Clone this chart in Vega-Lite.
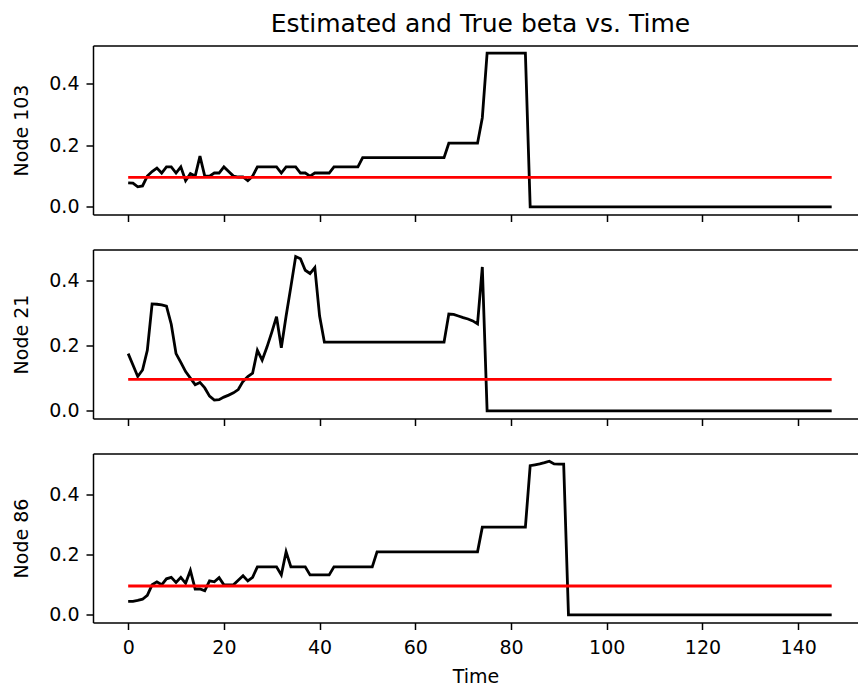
{
"$schema":"https://vega.github.io/schema/vega-lite/v6.json",
"padding":{"left":12,"top":11.5,"right":0,"bottom":0},
"title":{"text":"Estimated and True beta vs. Time","fontSize":25,"fontWeight":"normal","color":"#000","font":"DejaVu Sans","offset":9,"anchor":"middle","dx":45},
"datasets":{
"n103":[{"t":0,"b":0.078},{"t":1,"b":0.077},{"t":2,"b":0.065},{"t":3,"b":0.068},{"t":4,"b":0.1},{"t":5,"b":0.115},{"t":6,"b":0.126},{"t":7,"b":0.11},{"t":8,"b":0.13},{"t":9,"b":0.13},{"t":10,"b":0.11},{"t":11,"b":0.13},{"t":12,"b":0.085},{"t":13,"b":0.108},{"t":14,"b":0.1},{"t":15,"b":0.165},{"t":16,"b":0.1},{"t":17,"b":0.1},{"t":18,"b":0.11},{"t":19,"b":0.11},{"t":20,"b":0.13},{"t":21,"b":0.115},{"t":22,"b":0.1},{"t":23,"b":0.097},{"t":24,"b":0.097},{"t":25,"b":0.085},{"t":26,"b":0.1},{"t":27,"b":0.13},{"t":28,"b":0.13},{"t":29,"b":0.13},{"t":30,"b":0.13},{"t":31,"b":0.13},{"t":32,"b":0.11},{"t":33,"b":0.13},{"t":34,"b":0.13},{"t":35,"b":0.13},{"t":36,"b":0.11},{"t":37,"b":0.11},{"t":38,"b":0.1},{"t":39,"b":0.11},{"t":40,"b":0.11},{"t":41,"b":0.11},{"t":42,"b":0.11},{"t":43,"b":0.13},{"t":44,"b":0.13},{"t":45,"b":0.13},{"t":46,"b":0.13},{"t":47,"b":0.13},{"t":48,"b":0.13},{"t":49,"b":0.16},{"t":50,"b":0.16},{"t":51,"b":0.16},{"t":52,"b":0.16},{"t":53,"b":0.16},{"t":54,"b":0.16},{"t":55,"b":0.16},{"t":56,"b":0.16},{"t":57,"b":0.16},{"t":58,"b":0.16},{"t":59,"b":0.16},{"t":60,"b":0.16},{"t":61,"b":0.16},{"t":62,"b":0.16},{"t":63,"b":0.16},{"t":64,"b":0.16},{"t":65,"b":0.16},{"t":66,"b":0.16},{"t":67,"b":0.207},{"t":68,"b":0.207},{"t":69,"b":0.207},{"t":70,"b":0.207},{"t":71,"b":0.207},{"t":72,"b":0.207},{"t":73,"b":0.207},{"t":74,"b":0.29},{"t":75,"b":0.5},{"t":76,"b":0.5},{"t":77,"b":0.5},{"t":78,"b":0.5},{"t":79,"b":0.5},{"t":80,"b":0.5},{"t":81,"b":0.5},{"t":82,"b":0.5},{"t":83,"b":0.5},{"t":84,"b":0},{"t":85,"b":0},{"t":86,"b":0},{"t":87,"b":0},{"t":88,"b":0},{"t":89,"b":0},{"t":90,"b":0},{"t":91,"b":0},{"t":92,"b":0},{"t":93,"b":0},{"t":94,"b":0},{"t":95,"b":0},{"t":96,"b":0},{"t":97,"b":0},{"t":98,"b":0},{"t":99,"b":0},{"t":100,"b":0},{"t":101,"b":0},{"t":102,"b":0},{"t":103,"b":0},{"t":104,"b":0},{"t":105,"b":0},{"t":106,"b":0},{"t":107,"b":0},{"t":108,"b":0},{"t":109,"b":0},{"t":110,"b":0},{"t":111,"b":0},{"t":112,"b":0},{"t":113,"b":0},{"t":114,"b":0},{"t":115,"b":0},{"t":116,"b":0},{"t":117,"b":0},{"t":118,"b":0},{"t":119,"b":0},{"t":120,"b":0},{"t":121,"b":0},{"t":122,"b":0},{"t":123,"b":0},{"t":124,"b":0},{"t":125,"b":0},{"t":126,"b":0},{"t":127,"b":0},{"t":128,"b":0},{"t":129,"b":0},{"t":130,"b":0},{"t":131,"b":0},{"t":132,"b":0},{"t":133,"b":0},{"t":134,"b":0},{"t":135,"b":0},{"t":136,"b":0},{"t":137,"b":0},{"t":138,"b":0},{"t":139,"b":0},{"t":140,"b":0},{"t":141,"b":0},{"t":142,"b":0},{"t":143,"b":0},{"t":144,"b":0},{"t":145,"b":0},{"t":146,"b":0},{"t":147,"b":0}],
"n21":[{"t":0,"b":0.175},{"t":1,"b":0.14},{"t":2,"b":0.105},{"t":3,"b":0.125},{"t":4,"b":0.185},{"t":5,"b":0.327},{"t":6,"b":0.326},{"t":7,"b":0.324},{"t":8,"b":0.32},{"t":9,"b":0.265},{"t":10,"b":0.175},{"t":11,"b":0.148},{"t":12,"b":0.12},{"t":13,"b":0.1},{"t":14,"b":0.08},{"t":15,"b":0.087},{"t":16,"b":0.07},{"t":17,"b":0.045},{"t":18,"b":0.033},{"t":19,"b":0.034},{"t":20,"b":0.042},{"t":21,"b":0.048},{"t":22,"b":0.055},{"t":23,"b":0.065},{"t":24,"b":0.09},{"t":25,"b":0.105},{"t":26,"b":0.115},{"t":27,"b":0.185},{"t":28,"b":0.155},{"t":29,"b":0.195},{"t":30,"b":0.24},{"t":31,"b":0.288},{"t":32,"b":0.193},{"t":33,"b":0.29},{"t":34,"b":0.38},{"t":35,"b":0.472},{"t":36,"b":0.465},{"t":37,"b":0.43},{"t":38,"b":0.42},{"t":39,"b":0.438},{"t":40,"b":0.29},{"t":41,"b":0.21},{"t":42,"b":0.21},{"t":43,"b":0.21},{"t":44,"b":0.21},{"t":45,"b":0.21},{"t":46,"b":0.21},{"t":47,"b":0.21},{"t":48,"b":0.21},{"t":49,"b":0.21},{"t":50,"b":0.21},{"t":51,"b":0.21},{"t":52,"b":0.21},{"t":53,"b":0.21},{"t":54,"b":0.21},{"t":55,"b":0.21},{"t":56,"b":0.21},{"t":57,"b":0.21},{"t":58,"b":0.21},{"t":59,"b":0.21},{"t":60,"b":0.21},{"t":61,"b":0.21},{"t":62,"b":0.21},{"t":63,"b":0.21},{"t":64,"b":0.21},{"t":65,"b":0.21},{"t":66,"b":0.21},{"t":67,"b":0.296},{"t":68,"b":0.295},{"t":69,"b":0.29},{"t":70,"b":0.285},{"t":71,"b":0.281},{"t":72,"b":0.275},{"t":73,"b":0.266},{"t":74,"b":0.44},{"t":75,"b":0},{"t":76,"b":0},{"t":77,"b":0},{"t":78,"b":0},{"t":79,"b":0},{"t":80,"b":0},{"t":81,"b":0},{"t":82,"b":0},{"t":83,"b":0},{"t":84,"b":0},{"t":85,"b":0},{"t":86,"b":0},{"t":87,"b":0},{"t":88,"b":0},{"t":89,"b":0},{"t":90,"b":0},{"t":91,"b":0},{"t":92,"b":0},{"t":93,"b":0},{"t":94,"b":0},{"t":95,"b":0},{"t":96,"b":0},{"t":97,"b":0},{"t":98,"b":0},{"t":99,"b":0},{"t":100,"b":0},{"t":101,"b":0},{"t":102,"b":0},{"t":103,"b":0},{"t":104,"b":0},{"t":105,"b":0},{"t":106,"b":0},{"t":107,"b":0},{"t":108,"b":0},{"t":109,"b":0},{"t":110,"b":0},{"t":111,"b":0},{"t":112,"b":0},{"t":113,"b":0},{"t":114,"b":0},{"t":115,"b":0},{"t":116,"b":0},{"t":117,"b":0},{"t":118,"b":0},{"t":119,"b":0},{"t":120,"b":0},{"t":121,"b":0},{"t":122,"b":0},{"t":123,"b":0},{"t":124,"b":0},{"t":125,"b":0},{"t":126,"b":0},{"t":127,"b":0},{"t":128,"b":0},{"t":129,"b":0},{"t":130,"b":0},{"t":131,"b":0},{"t":132,"b":0},{"t":133,"b":0},{"t":134,"b":0},{"t":135,"b":0},{"t":136,"b":0},{"t":137,"b":0},{"t":138,"b":0},{"t":139,"b":0},{"t":140,"b":0},{"t":141,"b":0},{"t":142,"b":0},{"t":143,"b":0},{"t":144,"b":0},{"t":145,"b":0},{"t":146,"b":0},{"t":147,"b":0}],
"n86":[{"t":0,"b":0.045},{"t":1,"b":0.045},{"t":2,"b":0.048},{"t":3,"b":0.052},{"t":4,"b":0.065},{"t":5,"b":0.1},{"t":6,"b":0.11},{"t":7,"b":0.1},{"t":8,"b":0.12},{"t":9,"b":0.125},{"t":10,"b":0.108},{"t":11,"b":0.125},{"t":12,"b":0.105},{"t":13,"b":0.148},{"t":14,"b":0.086},{"t":15,"b":0.086},{"t":16,"b":0.08},{"t":17,"b":0.113},{"t":18,"b":0.11},{"t":19,"b":0.124},{"t":20,"b":0.1},{"t":21,"b":0.1},{"t":22,"b":0.1},{"t":23,"b":0.115},{"t":24,"b":0.13},{"t":25,"b":0.113},{"t":26,"b":0.125},{"t":27,"b":0.16},{"t":28,"b":0.16},{"t":29,"b":0.16},{"t":30,"b":0.16},{"t":31,"b":0.16},{"t":32,"b":0.133},{"t":33,"b":0.21},{"t":34,"b":0.16},{"t":35,"b":0.16},{"t":36,"b":0.16},{"t":37,"b":0.16},{"t":38,"b":0.133},{"t":39,"b":0.133},{"t":40,"b":0.133},{"t":41,"b":0.133},{"t":42,"b":0.133},{"t":43,"b":0.16},{"t":44,"b":0.16},{"t":45,"b":0.16},{"t":46,"b":0.16},{"t":47,"b":0.16},{"t":48,"b":0.16},{"t":49,"b":0.16},{"t":50,"b":0.16},{"t":51,"b":0.16},{"t":52,"b":0.21},{"t":53,"b":0.21},{"t":54,"b":0.21},{"t":55,"b":0.21},{"t":56,"b":0.21},{"t":57,"b":0.21},{"t":58,"b":0.21},{"t":59,"b":0.21},{"t":60,"b":0.21},{"t":61,"b":0.21},{"t":62,"b":0.21},{"t":63,"b":0.21},{"t":64,"b":0.21},{"t":65,"b":0.21},{"t":66,"b":0.21},{"t":67,"b":0.21},{"t":68,"b":0.21},{"t":69,"b":0.21},{"t":70,"b":0.21},{"t":71,"b":0.21},{"t":72,"b":0.21},{"t":73,"b":0.21},{"t":74,"b":0.292},{"t":75,"b":0.292},{"t":76,"b":0.292},{"t":77,"b":0.292},{"t":78,"b":0.292},{"t":79,"b":0.292},{"t":80,"b":0.292},{"t":81,"b":0.292},{"t":82,"b":0.292},{"t":83,"b":0.292},{"t":84,"b":0.497},{"t":85,"b":0.5},{"t":86,"b":0.503},{"t":87,"b":0.507},{"t":88,"b":0.512},{"t":89,"b":0.503},{"t":90,"b":0.502},{"t":91,"b":0.502},{"t":92,"b":0},{"t":93,"b":0},{"t":94,"b":0},{"t":95,"b":0},{"t":96,"b":0},{"t":97,"b":0},{"t":98,"b":0},{"t":99,"b":0},{"t":100,"b":0},{"t":101,"b":0},{"t":102,"b":0},{"t":103,"b":0},{"t":104,"b":0},{"t":105,"b":0},{"t":106,"b":0},{"t":107,"b":0},{"t":108,"b":0},{"t":109,"b":0},{"t":110,"b":0},{"t":111,"b":0},{"t":112,"b":0},{"t":113,"b":0},{"t":114,"b":0},{"t":115,"b":0},{"t":116,"b":0},{"t":117,"b":0},{"t":118,"b":0},{"t":119,"b":0},{"t":120,"b":0},{"t":121,"b":0},{"t":122,"b":0},{"t":123,"b":0},{"t":124,"b":0},{"t":125,"b":0},{"t":126,"b":0},{"t":127,"b":0},{"t":128,"b":0},{"t":129,"b":0},{"t":130,"b":0},{"t":131,"b":0},{"t":132,"b":0},{"t":133,"b":0},{"t":134,"b":0},{"t":135,"b":0},{"t":136,"b":0},{"t":137,"b":0},{"t":138,"b":0},{"t":139,"b":0},{"t":140,"b":0},{"t":141,"b":0},{"t":142,"b":0},{"t":143,"b":0},{"t":144,"b":0},{"t":145,"b":0},{"t":146,"b":0},{"t":147,"b":0}],
"truth":[{"t":0,"v":0.096},{"t":147,"v":0.096}]
},
"spacing":27,
"vconcat":[
{"width":765,"height":169,"resolve":{"axis":{"x":"independent"}},"layer":[
 {"data":{"name":"n103"},"mark":{"type":"line","color":"#000000","strokeWidth":2.8},"encoding":{"x":{"field":"t","type":"quantitative","scale":{"domain":[-7.35,152.5],"nice":false,"zero":false},"axis":{"values":[0,20,40,60,80,100,120,140],"labels":false,"title":null}},"y":{"field":"b","type":"quantitative","scale":{"domain":[-0.025,0.525],"nice":false,"zero":false},"axis":{"values":[0,0.2,0.4],"format":".1f","title":"Node 103"}}}},
 {"data":{"name":"truth"},"mark":{"type":"line","color":"#ff0000","strokeWidth":2.8},"encoding":{"x":{"field":"t","type":"quantitative","axis":{"orient":"top","ticks":false,"labels":false,"title":null}},"y":{"field":"v","type":"quantitative"}}}
]},
{"width":765,"height":169,"resolve":{"axis":{"x":"independent"}},"layer":[
 {"data":{"name":"n21"},"mark":{"type":"line","color":"#000000","strokeWidth":2.8},"encoding":{"x":{"field":"t","type":"quantitative","scale":{"domain":[-7.35,152.5],"nice":false,"zero":false},"axis":{"values":[0,20,40,60,80,100,120,140],"labels":false,"title":null}},"y":{"field":"b","type":"quantitative","scale":{"domain":[-0.0235,0.4935],"nice":false,"zero":false},"axis":{"values":[0,0.2,0.4],"format":".1f","title":"Node 21"}}}},
 {"data":{"name":"truth"},"mark":{"type":"line","color":"#ff0000","strokeWidth":2.8},"encoding":{"x":{"field":"t","type":"quantitative","axis":{"orient":"top","ticks":false,"labels":false,"title":null}},"y":{"field":"v","type":"quantitative"}}}
]},
{"width":765,"height":169,"resolve":{"axis":{"x":"independent"}},"layer":[
 {"data":{"name":"n86"},"mark":{"type":"line","color":"#000000","strokeWidth":2.8},"encoding":{"x":{"field":"t","type":"quantitative","scale":{"domain":[-7.35,152.5],"nice":false,"zero":false},"axis":{"values":[0,20,40,60,80,100,120,140],"title":"Time","labelPadding":9,"titlePadding":10}},"y":{"field":"b","type":"quantitative","scale":{"domain":[-0.0256,0.5376],"nice":false,"zero":false},"axis":{"values":[0,0.2,0.4],"format":".1f","title":"Node 86"}}}},
 {"data":{"name":"truth"},"mark":{"type":"line","color":"#ff0000","strokeWidth":2.8},"encoding":{"x":{"field":"t","type":"quantitative","axis":{"orient":"top","ticks":false,"labels":false,"title":null}},"y":{"field":"v","type":"quantitative"}}}
]}
],
"config":{
 "font":"DejaVu Sans",
 "background":"#ffffff",
 "view":{"stroke":null},
 "axis":{"grid":false,"domain":true,"domainColor":"#000000","domainWidth":1.5,"tickColor":"#000000","tickWidth":1.5,"tickSize":7,"labelFont":"DejaVu Sans","labelFontSize":19,"labelColor":"#000000","labelPadding":7,"labelFlush":false,"labelOverlap":false,"titleFont":"DejaVu Sans","titleFontSize":19,"titleFontWeight":"normal","titleColor":"#000000"},
 "axisY":{"titlePadding":17},
 "axisX":{"titlePadding":8}
}
}
